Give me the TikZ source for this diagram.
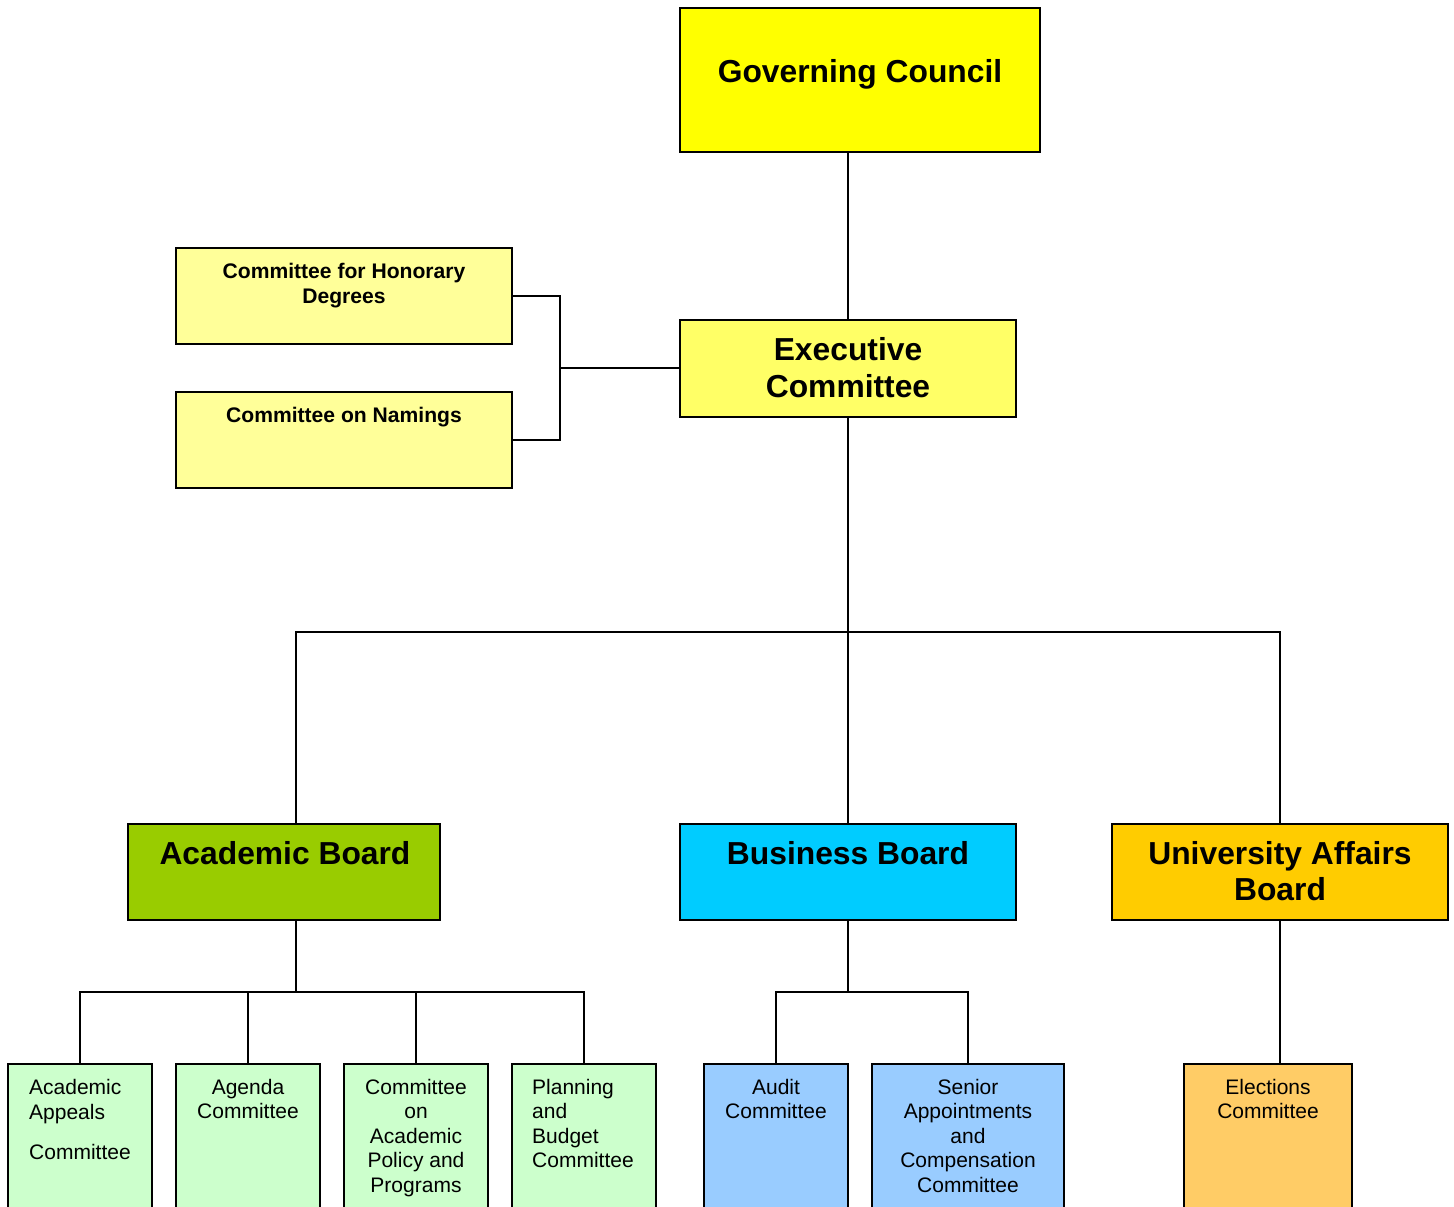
\documentclass[tikz,border=0pt]{standalone}
\usepackage{fontspec}
\setmainfont{Liberation Sans}
\definecolor{gcY}{HTML}{FFFF00}
\definecolor{exY}{HTML}{FFFF66}
\definecolor{smY}{HTML}{FFFF99}
\definecolor{abG}{HTML}{99CC00}
\definecolor{bbB}{HTML}{00CCFF}
\definecolor{uaO}{HTML}{FFCC00}
\definecolor{chG}{HTML}{CCFFCC}
\definecolor{chB}{HTML}{99CCFF}
\definecolor{chO}{HTML}{FFCC66}
\tikzset{
  boxst/.style={draw=black, line width=2pt, inner sep=0pt, outer sep=0pt, anchor=north west},
  bigt/.style={font=\fontsize{31.8}{37}\selectfont\bfseries, align=center, anchor=base, inner sep=0pt},
  smbt/.style={font=\fontsize{21.1}{25}\selectfont\bfseries, align=center, anchor=base, inner sep=0pt},
  regt/.style={font=\fontsize{21}{24.5}\selectfont, align=center, anchor=base, inner sep=0pt},
  regl/.style={font=\fontsize{21}{24.5}\selectfont, align=left, anchor=base west, inner sep=0pt},
  conn/.style={draw=black, line width=2pt}
}
\begin{document}
\begin{tikzpicture}[x=1pt,y=-1pt]
\clip (0,0) rectangle (1454,1207);
\fill[white] (0,0) rectangle (1454,1207);
% boxes
\node[boxst, fill=gcY, minimum width=360pt, minimum height=144pt] (gc) at (680,8) {};
\node[boxst, fill=exY, minimum width=336pt, minimum height=97pt] (ex) at (680,320) {};
\node[boxst, fill=smY, minimum width=336pt, minimum height=96pt] (hon) at (176,248) {};
\node[boxst, fill=smY, minimum width=336pt, minimum height=96pt] (nam) at (176,392) {};
\node[boxst, fill=abG, minimum width=312pt, minimum height=96pt] (ab) at (128,824) {};
\node[boxst, fill=bbB, minimum width=336pt, minimum height=96pt] (bb) at (680,824) {};
\node[boxst, fill=uaO, minimum width=336pt, minimum height=96pt] (ua) at (1112,824) {};
\node[boxst, fill=chG, minimum width=144pt, minimum height=170pt] (c1) at (8,1064) {};
\node[boxst, fill=chG, minimum width=144pt, minimum height=170pt] (c2) at (176,1064) {};
\node[boxst, fill=chG, minimum width=144pt, minimum height=170pt] (c3) at (344,1064) {};
\node[boxst, fill=chG, minimum width=144pt, minimum height=170pt] (c4) at (512,1064) {};
\node[boxst, fill=chB, minimum width=144pt, minimum height=170pt] (d1) at (704,1064) {};
\node[boxst, fill=chB, minimum width=192pt, minimum height=170pt] (d2) at (872,1064) {};
\node[boxst, fill=chO, minimum width=168pt, minimum height=170pt] (e1) at (1184,1064) {};
% texts (anchor base = baseline of the last line)
\node[bigt] (gct) at (860,82) {Governing Council};
\node[bigt] (ext) at (848,397) {Executive\\Committee};
\node[smbt] (hont) at (344,303.5) {Committee for Honorary\\Degrees};
\node[smbt] (namt) at (344,422.5) {Committee on Namings};
\node[bigt] (abt) at (285,864) {Academic Board};
\node[bigt] (bbt) at (848,864) {Business Board};
\node[bigt, font=\fontsize{31.8}{36.5}\selectfont\bfseries] (uat) at (1280,900.5) {University Affairs\\Board};
\node[regl] (c1t) at (29,1159) {Academic\\Appeals\\[15.5pt]Committee};
\node[regt] (c2t) at (248,1118.5) {Agenda\\Committee};
\node[regt] (c3t) at (416,1192) {Committee\\on\\Academic\\Policy and\\Programs};
\node[regl] (c4t) at (532,1167.5) {Planning\\and\\Budget\\Committee};
\node[regt] (d1t) at (776,1118.5) {Audit\\Committee};
\node[regt] (d2t) at (968,1192) {Senior\\Appointments\\and\\Compensation\\Committee};
\node[regt] (e1t) at (1268,1118.5) {Elections\\Committee};
% junctions
\coordinate (sj) at (560,368);
\coordinate (busj) at (848,632);
\coordinate (abj) at (296,992);
\coordinate (bbj) at (848,992);
% connectors
\draw[conn] (ex.north) -- (ex.north |- gc.south);
\draw[conn] (sj) -- (sj -| ex.west);
\draw[conn] (hon.east) -- (hon.east -| sj) -- (nam.east -| sj) -- (nam.east);
\draw[conn] (ex.south) -- (bb.north);
\draw[conn] (abj |- ab.north) |- (busj) -| (ua.north);
\draw[conn] (abj |- ab.south) -- (abj);
\draw[conn] (c1.north) |- (c4.north |- abj) -- (c4.north);
\draw[conn] (c2.north) -- (c2.north |- abj);
\draw[conn] (c3.north) -- (c3.north |- abj);
\draw[conn] (bb.south) -- (bbj);
\draw[conn] (d1.north) |- (d2.north |- bbj) -- (d2.north);
\draw[conn] (ua.south) -- (ua.south |- e1.north);
\end{tikzpicture}
\end{document}
